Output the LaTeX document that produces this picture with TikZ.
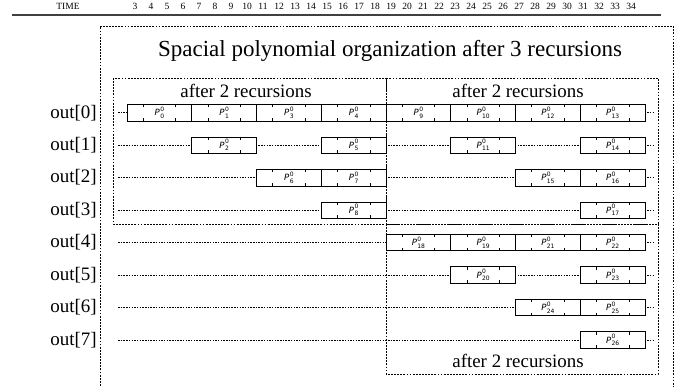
\documentclass[tikz,border=0pt]{standalone}
\usepackage{fontspec}
\setmainfont{Liberation Serif}
\newfontfamily\pf{DejaVu Sans}
\usetikzlibrary{calc}
\newcommand\plab[1]{{\itshape P}\kern0.4pt{\fontsize{6}{7}\selectfont\rlap{\raisebox{4.4pt}{0}}\raisebox{-2.5pt}{#1}}}
\begin{document}
\begin{tikzpicture}[x=1pt,y=-1pt,
  dsh/.style={line width=0.6pt, dash pattern=on 1.8pt off 1.3pt},
  rowline/.style={line width=0.5pt, dash pattern=on 1.5pt off 1.2pt},
  pbox/.style={draw, line width=0.7pt, fill=white, minimum width=64.75pt, minimum height=16.5pt, inner sep=0pt,
    font=\pf\fontsize{8.6}{9}\selectfont,
    path picture={
      \foreach \f in {0.25,0.75}{
        \draw[line width=0.5pt] ($(path picture bounding box.north west)!\f!(path picture bounding box.north east)$) -- ++(0,-3pt);
        \draw[line width=0.5pt] ($(path picture bounding box.south west)!\f!(path picture bounding box.south east)$) -- ++(0,3pt);
      }}},
  outlab/.style={anchor=east, inner sep=0pt, font=\fontsize{19}{22}\selectfont},
  sublab/.style={anchor=base, inner sep=0pt, font=\fontsize{18.9}{22}\selectfont},
  timelab/.style={anchor=base, inner sep=0pt, font=\fontsize{9.5}{11}\selectfont}
]
\useasboundingbox (0,0) rectangle (683,387);
% time axis
\node[timelab] (time) at (68,10) {TIME};
\foreach \n in {3,...,34}
  \node[timelab] (t\n) at ({135+16*(\n-3)},10) {\n};
\coordinate (la) at (12,15);
\coordinate (lb) at (661,15);
\draw[line width=1.1pt, black!75] (la) -- (lb);
% outer frame
\coordinate (o1) at (100,392);
\coordinate (o2) at (100,26);
\coordinate (o3) at (673,26);
\coordinate (o4) at (673,392);
\draw[dsh] (o1) -- (o2) -- (o3) -- (o4);
\node[anchor=base, inner sep=0pt, font=\fontsize{23}{27}\selectfont] (title) at (390,56.7)
  {Spacial polynomial organization after 3 recursions};
% inner frames
\coordinate (a1) at (113,78);
\coordinate (a2) at (386,224);
\coordinate (b1) at (386,78);
\coordinate (b2) at (658,224);
\coordinate (c1) at (386,224);
\coordinate (c2) at (658,374);
\draw[dsh] (a1) rectangle (a2);
\draw[dsh] (b1) rectangle (b2);
\draw[dsh] (c1) rectangle (c2);
\node[sublab] (s1) at (246,97.7) {after 2 recursions};
\node[sublab] (s2) at (518,97.7) {after 2 recursions};
\node[sublab] (s3) at (518,367) {after 2 recursions};
% rows
\foreach \r in {0,...,7}{
  \coordinate (rs\r) at (118,{112.7+32.47*\r});
  \coordinate (re\r) at (655,{112.7+32.47*\r});
  \draw[rowline] (rs\r) -- (re\r);
  \node[outlab] (out\r) at (97,{112.7+32.47*\r}) {out[\r]};
}
% boxes: row/column/index
\foreach \r/\c/\k in {0/0/0,0/1/1,0/2/3,0/3/4,0/4/9,0/5/10,0/6/12,0/7/13,
                      1/1/2,1/3/5,1/5/11,1/7/14,
                      2/2/6,2/3/7,2/6/15,2/7/16,
                      3/3/8,3/7/17,
                      4/4/18,4/5/19,4/6/21,4/7/22,
                      5/5/20,5/7/23,
                      6/6/24,6/7/25,
                      7/7/26}
  \node[pbox] (p\k) at ({127+64.75*(\c+0.5)},{112.7+32.47*\r}) {\plab{\k}};
\end{tikzpicture}
\end{document}
